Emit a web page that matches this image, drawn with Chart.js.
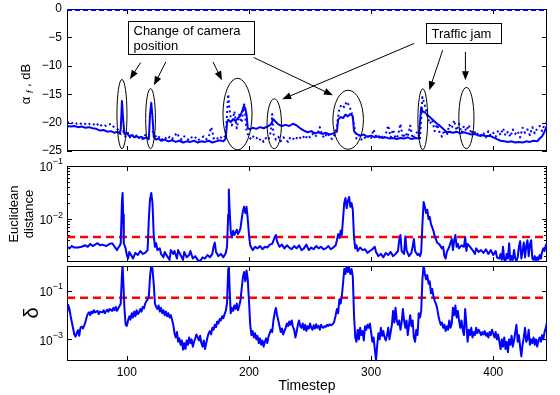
<!DOCTYPE html>
<html>
<head>
<meta charset="utf-8">
<script src="https://cdn.jsdelivr.net/npm/chart.js@4.4.1/dist/chart.umd.min.js"></script>
<style>
  body { margin: 0; background: #fff; width: 560px; height: 395px; position: relative; overflow: hidden; }
  canvas { position: absolute; left: 0; }
</style>
</head>
<body>
<canvas id="c1" width="560" height="160" style="top:0px"></canvas>
<canvas id="c2" width="560" height="110" style="top:156px"></canvas>
<canvas id="c3" width="560" height="137" style="top:258px"></canvas>
<script>
// ---- data ----
const xMin = 51, xMax = 444;
const xTicks = [100, 200, 300, 400];

// panel 1 : alpha_f in dB
const alphaTicks = [-25, -20, -15, -10, -5, 0];
const alphaZero = [[51, 0], [444, 0]];
const alphaMain = [
  [51,-20.6],[54,-20.7],[57,-20.6],[60,-20.8],[63,-20.7],[66,-20.9],[69,-20.8],[72,-21.0],[75,-21.1],[78,-21.4],
  [81,-21.3],[84,-21.6],[87,-21.5],[90,-21.8],[92,-21.6],[94,-21.9],[95,-21.2],[96,-16.2],[97,-19.5],[98,-22.0],
  [100,-21.8],[102,-22.4],[104,-22.2],[106,-22.6],[108,-22.4],[110,-22.7],[112,-22.5],[114,-22.8],[116,-22.6],[118,-22.9],
  [119,-18.5],[120,-16.5],[121,-19.0],[122,-22.5],[124,-23.0],[126,-22.8],[128,-23.2],[131,-23.0],[134,-23.3],[137,-23.1],
  [140,-23.4],[143,-23.2],[146,-23.5],[149,-23.3],[152,-23.4],[155,-23.2],[158,-23.5],[161,-23.3],[164,-23.4],[167,-23.2],
  [170,-23.5],[173,-23.3],[176,-23.1],[179,-23.3],[181,-22.8],[182,-20.0],[183,-19.5],[185,-19.9],[187,-19.4],[189,-19.7],
  [191,-19.2],[193,-18.8],[195,-17.6],[196,-17.1],[197,-17.5],[198,-18.6],[199,-21.0],[201,-21.2],[203,-20.9],[206,-21.1],
  [209,-20.8],[212,-21.0],[215,-20.7],[218,-20.3],[220,-19.4],[222,-19.9],[224,-20.3],[227,-20.6],[230,-20.4],[233,-20.6],
  [236,-20.2],[239,-20.5],[242,-21.0],[245,-21.4],[248,-21.7],[251,-21.5],[254,-21.9],[257,-21.7],[260,-22.0],[263,-21.8],
  [266,-22.1],[269,-21.9],[272,-21.6],[273,-19.5],[275,-19.0],[277,-19.2],[279,-18.6],[281,-18.9],[283,-18.5],[285,-18.9],
  [286,-21.5],[288,-22.0],[291,-22.3],[294,-22.1],[297,-22.5],[300,-22.3],[303,-22.6],[306,-22.4],[309,-22.7],[312,-22.6],
  [315,-22.8],[318,-22.7],[321,-22.9],[324,-22.7],[327,-22.8],[330,-22.6],[333,-22.9],[336,-22.7],[339,-22.8],[340,-20.0],
  [341,-17.3],[342,-18.0],[344,-18.2],[346,-18.6],[348,-19.0],[350,-19.4],[352,-19.8],[354,-20.2],[356,-20.5],[358,-20.9],
  [360,-21.3],[362,-21.7],[364,-21.6],[367,-21.8],[370,-21.6],[373,-21.9],[376,-21.7],[379,-21.9],[382,-22.1],[385,-22.0],
  [388,-22.3],[391,-22.2],[394,-22.4],[397,-22.3],[400,-22.6],[403,-22.9],[406,-23.2],[409,-23.3],[412,-23.4],[415,-23.3],
  [418,-23.5],[421,-23.4],[424,-23.5],[427,-23.3],[430,-23.4],[433,-23.2],[436,-23.3],[438,-22.8],[440,-22.4],[442,-21.6],
  [444,-20.5]
];
const alphaDotted = [
  [51,-20.0],[53,-19.8],[55,-20.1],[57,-19.9],[59,-20.2],[61,-20.0],[63,-20.3],[65,-20.1],[67,-20.4],[69,-20.2],
  [71,-20.5],[73,-20.3],[75,-20.6],[77,-20.1],[79,-20.5],[81,-20.3],[83,-20.6],[85,-20.4],[87,-20.2],[89,-20.7],
  [91,-20.9],[93,-21.3],[95,-22.0],[97,-21.5],[99,-22.5],[101,-21.8],[103,-22.8],[105,-22.3],[107,-22.0],[109,-22.8],
  [111,-22.4],[113,-22.9],[115,-22.2],[117,-22.6],[119,null],[121,-21.5],[123,-22.2],[125,-22.8],[127,-22.4],[129,-23.0],
  [131,-22.6],[133,-23.0],[135,-22.5],[137,-22.9],[139,-22.4],[141,-21.8],[143,-22.7],[145,-23.0],[147,-22.4],[149,-22.8],
  [151,-23.1],[153,-22.6],[155,-22.9],[157,-22.5],[159,-23.0],[161,-22.7],[163,-22.4],[165,-22.9],[167,-22.6],[169,-20.8],
  [170,-21.5],[171,-22.8],[173,-22.5],[175,-23.0],[177,-22.6],[179,-22.8],[181,-22.2],[183,-15.0],[184,-17.5],[186,-20.5],
  [188,-18.0],[190,-21.0],[192,-18.6],[194,-20.0],[196,-16.5],[198,-21.5],[200,-22.5],[202,-23.0],[204,-22.3],[206,-22.6],
  [208,-23.2],[210,-22.8],[212,-23.4],[214,-22.7],[216,-23.0],[218,-21.5],[219,-18.5],[220,-22.0],[222,-23.0],[224,-22.5],
  [226,-23.3],[228,-22.6],[230,-22.9],[232,-23.4],[234,-22.5],[236,-22.8],[238,-23.1],[240,-22.4],[242,-22.7],[244,-22.3],
  [246,-22.9],[248,-22.2],[250,-22.6],[252,-22.0],[254,-22.5],[256,-22.1],[258,-20.8],[260,-22.3],[262,-22.7],[264,-21.8],
  [266,-22.4],[268,-22.9],[270,-22.2],[272,-20.5],[274,-17.5],[276,-16.8],[278,-17.3],[280,-16.3],[282,-17.0],[284,-18.2],
  [286,-20.4],[288,-22.8],[290,-22.2],[292,-23.0],[294,-22.5],[296,-22.9],[298,-22.3],[300,-22.7],[302,-21.2],[304,-22.4],
  [306,-22.8],[308,-22.2],[310,-22.9],[312,-22.0],[314,-20.5],[316,-22.6],[318,-21.2],[320,-22.8],[322,-22.3],[324,-20.2],
  [326,-22.7],[328,-21.8],[330,-22.5],[332,-20.5],[334,-22.8],[336,-22.2],[338,-21.6],[340,-22.9],[342,-15.5],[344,-17.0],
  [346,-18.8],[348,-20.2],[350,-19.5],[352,-21.5],[354,-20.3],[356,-21.7],[358,-22.5],[360,-21.3],[362,-22.2],[364,-20.4],
  [366,-21.0],[368,-19.6],[370,-21.4],[372,-20.2],[374,-21.8],[376,-20.6],[378,-21.5],[380,-20.4],[382,-22.0],[384,-21.3],
  [386,-22.2],[388,-21.8],[390,-22.4],[392,-21.9],[394,-22.6],[396,-21.5],[398,-22.3],[400,-21.8],[402,-22.5],[404,-21.4],
  [406,-22.2],[408,-21.0],[410,-22.3],[412,-21.6],[414,-22.5],[416,-21.2],[418,-22.0],[420,-21.5],[422,-22.6],[424,-20.9],
  [426,-21.8],[428,-21.2],[430,-22.2],[432,-20.8],[434,-21.9],[436,-21.0],[438,-20.6],[440,-21.5],[442,-20.3],[444,-20.0]
];

// panel 1 annotations, in data units: [t, value, radius t, radius value]
const ellipses = [[96, -18.5, 4.1, 6.1], [119.4, -19.3, 4, 5.3], [190.6, -18.5, 11.9, 6.3], [220.7, -20.2, 5.9, 4.4],
                  [281.2, -19.5, 12.5, 5.2], [342.3, -19.4, 4, 5.35], [378, -19.2, 6.2, 5.4]];
// [t0, v0, t1, v1] arrow from (t0,v0) to head at (t1,v1)
const arrows = [[111.3, -9.42, 102.5, -12.37], [131.9, -9.31, 122.2, -13.43], [170.5, -9.31, 177.9, -12.54],
                [203.8, -8.53, 268.7, -15.19], [335.3, -6.06, 227.2, -15.9], [358.6, -7.24, 347.6, -14.31],
                [377.2, -7.54, 377.2, -12.54]];
const boxLabels = [['Change of camera', 'position'], ['Traffic jam']];
const boxCorners = [[101.2, -2.07, 203.9, -7.95], [345, -2.5, 406.6, -6.06]];

// panel 2 : euclidean distance (log)
const distRange = [0.00155, 0.1];
const distMajor = [0.01, 0.1];
const distMinor = [0.002, 0.003, 0.004, 0.005, 0.006, 0.007, 0.008, 0.009, 0.02, 0.03, 0.04, 0.05, 0.06, 0.07, 0.08, 0.09];
const distThreshold = 0.0046;
const distance = [
  [51,0.0030],[53,0.0028],[55,0.0031],[57,0.0029],[60,0.0029],[63,0.0030],[66,0.0032],[68,0.0030],[70,0.0034],[72,0.0031],
  [74,0.0033],[76,0.0035],[78,0.0032],[80,0.0033],[83,0.0031],[86,0.0034],[88,0.0035],[90,0.0030],[92,0.0026],[93,0.0029],
  [94,0.0031],[95,0.0035],[96,0.022],[96.5,0.031],[97,0.012],[97.5,0.0035],[99,0.0028],[100,0.0021],[101,0.0018],[102,0.0024],
  [104,0.0020],[105,0.0018],[107,0.0023],[109,0.0021],[111,0.0025],[113,0.0022],[115,0.0023],[117,0.0026],[118,0.010],[119,0.024],
  [120,0.031],[121,0.020],[122,0.0050],[123,0.0030],[124,0.0035],[125,0.0026],[127,0.0028],[128,0.0022],[130,0.0019],[131,0.0024],
  [133,0.0020],[135,0.0017],[136,0.0026],[138,0.0022],[139,0.0025],[141,0.0018],[142,0.0026],[144,0.0021],[146,0.0017],[147,0.0024],
  [149,0.0019],[151,0.0021],[152,0.0025],[154,0.0018],[156,0.0020],[158,0.0017],[160,0.0016],[162,0.0019],[164,0.0018],[166,0.0021],
  [168,0.0019],[170,0.0022],[171,0.0030],[172,0.0036],[173,0.0024],[175,0.0020],[177,0.0022],[179,0.0019],[181,0.0023],[182,0.0030],
  [183,0.0120],[183.5,0.036],[184,0.018],[185,0.0060],[186,0.0045],[187,0.0060],[188,0.0050],[189,0.0056],[190,0.0063],[191,0.0052],
  [192,0.0058],[193,0.0066],[194,0.010],[195,0.014],[196,0.017],[197,0.013],[198,0.017],[199,0.010],[200,0.005],[201,0.0032],
  [203,0.0026],[205,0.0030],[207,0.0028],[209,0.0031],[211,0.0027],[213,0.0030],[215,0.0029],[217,0.0033],[219,0.0034],[221,0.0045],
  [222,0.0050],[223,0.0038],[225,0.0030],[227,0.0033],[229,0.0028],[231,0.0032],[233,0.0029],[235,0.0027],[237,0.0031],[239,0.0028],
  [241,0.0032],[243,0.0026],[245,0.0028],[247,0.0033],[249,0.0026],[251,0.0029],[253,0.0027],[255,0.0031],[257,0.0028],[259,0.0030],
  [261,0.0027],[263,0.0028],[265,0.0031],[267,0.0027],[269,0.0029],[271,0.0032],[272,0.0040],[273,0.0052],[274,0.0044],[275,0.0060],
  [276,0.0050],[277,0.010],[278,0.020],[279,0.025],[280,0.016],[281,0.022],[282,0.026],[283,0.017],[284,0.020],[285,0.015],
  [286,0.0045],[287,0.0028],[288,0.0032],[289,0.0025],[291,0.0029],[293,0.0026],[295,0.0027],[297,0.0023],[299,0.0025],[301,0.0027],
  [303,0.0030],[304,0.0024],[306,0.0020],[308,0.0022],[310,0.0019],[312,0.0023],[314,0.0021],[316,0.0024],[318,0.0020],[320,0.0022],
  [322,0.0025],[323,0.0040],[324,0.0050],[325,0.0025],[327,0.0022],[328,0.0047],[329,0.0026],[331,0.0020],[333,0.0023],[334,0.0030],
  [335,0.0042],[336,0.0025],[338,0.0021],[339,0.0022],[340,0.0020],[341,0.0024],[342,0.0080],[343,0.021],[344,0.017],[345,0.013],
  [346,0.015],[347,0.010],[348,0.011],[349,0.008],[350,0.0070],[351,0.0060],[352,0.0048],[353,0.0042],[354,0.0036],[356,0.0033],
  [358,0.0028],[359,0.0030],[360,0.0020],[361,0.0018],[362,0.0024],[364,0.0030],[366,0.0042],[367,0.0026],[368,0.0040],[369,0.0050],
  [370,0.0030],[371,0.0034],[372,0.0028],[374,0.0032],[376,0.0030],[377,0.0046],[378,0.0025],[379,0.0034],[381,0.0030],[383,0.0026],
  [385,0.0022],[386,0.0028],[388,0.0024],[390,0.0026],[392,0.0023],[394,0.0027],[396,0.0022],[398,0.0026],[400,0.0021],[402,0.0025],
  [403,0.0019],[405,0.0018],[406,0.0022],[407,0.0017],[408,0.0030],[409,0.0017],[410,0.0016],[411,0.0022],[412,0.0018],[413,0.0035],
  [414,0.0016],[415,0.0020],[416,0.0017],[417,0.0026],[418,0.0018],[419,0.0016],[420,0.0019],[421,0.0030],[422,0.0038],[423,0.0018],
  [424,0.0025],[425,0.0036],[426,0.0019],[427,0.0031],[428,0.0040],[429,0.0020],[430,0.0033],[431,0.0040],[432,0.0018],[433,0.0017],
  [434,0.0020],[435,0.0016],[436,0.0019],[437,0.0017],[438,0.0021],[439,0.0018],[440,0.0024],[441,0.0028],[442,0.0025],[443,0.0032],
  [444,0.0036]
];

// panel 3 : delta (log)
const deltaRange = [0.000128, 1.07];
const deltaMajor = [0.001, 0.1];
const deltaThreshold = 0.052;
const delta = [
  [51,0.012],[52,0.026],[53,0.018],[54,0.009],[55,0.005],[56,0.0028],[57,0.0016],[58,0.0013],[59,0.0018],[60,0.0024],
  [61,0.0014],[62,0.0030],[63,0.0034],[64,0.0028],[65,0.0036],[66,0.0050],[67,0.0080],[68,0.011],[69,0.013],[70,0.010],
  [71,0.014],[72,0.012],[73,0.016],[74,0.013],[76,0.015],[77,0.011],[78,0.014],[80,0.013],[81,0.016],[82,0.012],
  [84,0.017],[85,0.014],[86,0.018],[88,0.015],[89,0.020],[90,0.016],[91,0.022],[92,0.015],[93,0.019],[94,0.024],
  [95,0.030],[96,0.5],[96.5,1.2],[97,0.3],[98,0.02],[99,0.004],[100,0.0036],[101,0.006],[102,0.009],[103,0.0065],
  [104,0.012],[105,0.008],[106,0.014],[107,0.009],[108,0.016],[109,0.011],[110,0.013],[111,0.018],[112,0.014],[113,0.022],
  [114,0.019],[115,0.030],[116,0.038],[117,0.045],[118,0.06],[119,0.4],[120,1.2],[121,0.8],[122,0.2],[123,0.03],
  [124,0.022],[125,0.018],[126,0.025],[127,0.014],[128,0.020],[129,0.012],[130,0.016],[131,0.010],[132,0.014],[133,0.009],
  [134,0.012],[135,0.008],[136,0.010],[137,0.0065],[138,0.004],[139,0.0018],[140,0.0012],[141,0.0020],[142,0.0008],[143,0.0011],
  [144,0.0006],[145,0.0009],[146,0.00038],[147,0.0007],[148,0.0004],[149,0.0009],[150,0.0006],[151,0.0012],[152,0.0007],[153,0.0010],
  [154,0.0005],[155,0.0008],[156,0.0011],[157,0.0016],[158,0.0012],[159,0.0009],[160,0.0014],[161,0.0007],[162,0.0005],[163,0.0009],
  [164,0.0004],[165,0.0007],[166,0.0012],[167,0.0018],[168,0.0022],[169,0.0016],[170,0.0030],[171,0.0025],[172,0.0040],[173,0.0032],
  [174,0.0055],[175,0.0045],[176,0.0070],[177,0.0060],[178,0.0090],[179,0.0075],[180,0.011],[181,0.015],[182,0.03],[183,0.8],
  [183.5,1.2],[184,0.2],[185,0.012],[186,0.02],[187,0.015],[188,0.025],[189,0.018],[190,0.03],[191,0.016],[192,0.024],
  [193,0.04],[194,0.12],[195,0.35],[196,0.6],[197,0.25],[198,0.7],[199,0.3],[200,0.04],[201,0.004],[202,0.0015],
  [203,0.0022],[204,0.0012],[205,0.0018],[206,0.0010],[207,0.0014],[208,0.0007],[209,0.0011],[210,0.0006],[211,0.0009],[212,0.0005],
  [213,0.0008],[214,0.0011],[215,0.0007],[216,0.0013],[217,0.0018],[218,0.0025],[219,0.0020],[220,0.0060],[221,0.012],[222,0.020],
  [223,0.010],[224,0.006],[225,0.0035],[226,0.0020],[227,0.0028],[228,0.0016],[229,0.0022],[230,0.0030],[231,0.0045],[232,0.0035],
  [233,0.0055],[234,0.0040],[235,0.0060],[236,0.0032],[237,0.0025],[238,0.0012],[239,0.0020],[240,0.0040],[241,0.0060],[242,0.0035],
  [243,0.0030],[244,0.0045],[245,0.0025],[246,0.0040],[247,0.0022],[248,0.0035],[249,0.0028],[250,0.0045],[251,0.0030],[252,0.0025],
  [253,0.0038],[254,0.0028],[255,0.0042],[256,0.0030],[257,0.0036],[258,0.0025],[259,0.0040],[260,0.0032],[261,0.0030],[262,0.0035],
  [263,0.0033],[264,0.0040],[265,0.0036],[266,0.0042],[267,0.0038],[268,0.0040],[269,0.0045],[270,0.0060],[271,0.010],[272,0.018],
  [273,0.012],[274,0.045],[275,0.03],[276,0.06],[277,0.2],[278,0.8],[279,0.5],[280,1.2],[281,0.6],[282,0.9],
  [283,0.5],[284,0.8],[285,0.4],[286,0.01],[287,0.0012],[288,0.0008],[289,0.0025],[290,0.0010],[291,0.0030],[292,0.0015],
  [293,0.0022],[294,0.0009],[295,0.0035],[296,0.0025],[297,0.0040],[298,0.0030],[299,0.0045],[300,0.0020],[301,0.0008],[302,0.0012],
  [303,0.0004],[304,0.00014],[305,0.0006],[306,0.0018],[307,0.0010],[308,0.0030],[309,0.0014],[310,0.0022],[311,0.0012],[312,0.0009],
  [313,0.0015],[314,0.0030],[315,0.0010],[316,0.0020],[317,0.0040],[318,0.015],[319,0.005],[320,0.020],[321,0.006],[322,0.0040],
  [323,0.0060],[324,0.0025],[325,0.0050],[326,0.018],[327,0.006],[328,0.0030],[329,0.0060],[330,0.0015],[331,0.0040],[332,0.010],
  [333,0.0035],[334,0.0060],[335,0.0012],[336,0.0008],[337,0.0025],[338,0.0015],[339,0.012],[340,0.0080],[341,0.015],[342,0.3],
  [343,1.2],[344,0.5],[345,0.3],[346,0.45],[347,0.2],[348,0.25],[349,0.08],[350,0.12],[351,0.06],[352,0.04],
  [353,0.03],[354,0.02],[355,0.010],[356,0.006],[357,0.0040],[358,0.0050],[359,0.0030],[360,0.0040],[361,0.0022],[362,0.0035],
  [363,0.0025],[364,0.0060],[365,0.0030],[366,0.0045],[367,0.020],[368,0.010],[369,0.025],[370,0.008],[371,0.015],[372,0.006],
  [373,0.0030],[374,0.0060],[375,0.0025],[376,0.0015],[377,0.018],[378,0.0040],[379,0.0008],[380,0.0025],[381,0.0015],[382,0.0030],
  [383,0.0012],[384,0.0020],[385,0.0015],[386,0.0030],[387,0.0018],[388,0.0025],[389,0.0020],[390,0.0015],[391,0.0020],[392,0.0016],
  [393,0.0022],[394,0.0014],[395,0.0018],[396,0.0012],[397,0.0020],[398,0.0015],[399,0.0025],[400,0.0017],[401,0.0012],[402,0.0020],
  [403,0.0010],[404,0.0016],[405,0.0008],[406,0.0004],[407,0.0010],[408,0.0005],[409,0.0012],[410,0.0004],[411,0.0008],[412,0.0003],
  [413,0.0010],[414,0.0006],[415,0.0014],[416,0.0005],[417,0.0009],[418,0.0020],[419,0.0040],[420,0.0008],[421,0.0015],[422,0.0005],
  [423,0.0002],[424,0.0006],[425,0.0012],[426,0.0030],[427,0.0008],[428,0.0010],[429,0.0025],[430,0.0006],[431,0.0010],[432,0.0007],
  [433,0.0012],[434,0.0006],[435,0.0010],[436,0.0005],[437,0.0009],[438,0.0012],[439,0.0008],[440,0.0015],[441,0.0010],[442,0.0020],
  [443,0.0030],[444,0.0050]
];

// ---- drawing ----
const FONT = "'Liberation Sans', Arial, Helvetica, sans-serif";
const BLUE = '#0000ff', RED = '#ff0000';
const toXY = arr => arr.map(p => ({ x: p[0], y: p[1] }));

// box round the axes + inward tick marks on all four sides (drawn under the data, like matlab)
const framePlugin = {
  id: 'frame',
  beforeDatasetsDraw(chart) {
    const { ctx, chartArea: a, scales } = chart;
    ctx.save();
    ctx.strokeStyle = '#000';
    ctx.lineWidth = 1;
    ctx.strokeRect(a.left + 0.5, a.top + 0.5, a.right - a.left - 1, a.bottom - a.top - 1);
    ctx.beginPath();
    scales.x.ticks.forEach(t => {
      const x = Math.round(scales.x.getPixelForValue(t.value)) + 0.5;
      ctx.moveTo(x, a.bottom); ctx.lineTo(x, a.bottom - 5);
      ctx.moveTo(x, a.top); ctx.lineTo(x, a.top + 5);
    });
    scales.y.ticks.forEach(t => {
      const y = Math.round(scales.y.getPixelForValue(t.value)) + 0.5;
      const len = t.small ? 3 : 5;
      ctx.moveTo(a.left, y); ctx.lineTo(a.left + len, y);
      ctx.moveTo(a.right, y); ctx.lineTo(a.right - len, y);
    });
    ctx.stroke();
    // power-of-ten labels for the log axes
    scales.y.ticks.forEach(t => {
      if (!t.pow) return;
      const y = scales.y.getPixelForValue(t.value);
      const exp = '\u2212' + t.pow;
      ctx.fillStyle = '#000';
      ctx.textBaseline = 'middle';
      ctx.font = '9px ' + FONT;
      const we = ctx.measureText(exp).width;
      ctx.textAlign = 'left';
      ctx.fillText(exp, a.left - 4 - we, y - 4);
      ctx.font = '12px ' + FONT;
      ctx.textAlign = 'right';
      ctx.fillText('10', a.left - 4 - we, y + 2);
    });
    ctx.restore();
  }
};

// rotated y-axis title; parts = [text, fontsize, shift, italic]
function yTitle(x, y, lines) {
  return {
    id: 'ytitle',
    afterDraw(chart) {
      const ctx = chart.ctx;
      ctx.save();
      ctx.translate(x, y);
      ctx.rotate(-Math.PI / 2);
      ctx.fillStyle = '#000';
      ctx.textBaseline = 'middle';
      ctx.textAlign = 'left';
      lines.forEach((parts, li) => {
        const fontOf = p => (p[3] ? 'italic ' : '') + p[1] + 'px ' + FONT;
        let total = 0;
        parts.forEach(p => { ctx.font = fontOf(p); total += ctx.measureText(p[0]).width; });
        let cx = -total / 2;
        const ly = (li - (lines.length - 1) / 2) * 15;
        parts.forEach(p => {
          ctx.font = fontOf(p);
          ctx.fillText(p[0], cx, ly + p[2]);
          cx += ctx.measureText(p[0]).width;
        });
      });
      ctx.restore();
    }
  };
}

function drawArrow(ctx, x0, y0, x1, y1) {
  const ang = Math.atan2(y1 - y0, x1 - x0), L = 9, W = 3.5;
  const c = Math.cos(ang), s = Math.sin(ang);
  ctx.beginPath();
  ctx.moveTo(x0, y0); ctx.lineTo(x1 - c * L * 0.6, y1 - s * L * 0.6);
  ctx.stroke();
  ctx.beginPath();
  ctx.moveTo(x1, y1);
  ctx.lineTo(x1 - L * c + W * s, y1 - L * s - W * c);
  ctx.lineTo(x1 - L * c - W * s, y1 - L * s + W * c);
  ctx.closePath();
  ctx.fill();
}

const annotationPlugin = {
  id: 'notes',
  afterDatasetsDraw(chart) {
    const { ctx, scales: { x, y } } = chart;
    ctx.save();
    ctx.strokeStyle = '#000';
    ctx.fillStyle = '#000';
    ctx.lineWidth = 1;
    ellipses.forEach(e => {
      const cx = x.getPixelForValue(e[0]), cy = y.getPixelForValue(e[1]);
      const rx = x.getPixelForValue(e[0] + e[2]) - cx;
      const ry = cy - y.getPixelForValue(e[1] + e[3]);
      ctx.beginPath();
      ctx.ellipse(cx, cy, rx, ry, 0, 0, Math.PI * 2);
      ctx.stroke();
    });
    arrows.forEach(r => drawArrow(ctx, x.getPixelForValue(r[0]), y.getPixelForValue(r[1]),
                                   x.getPixelForValue(r[2]), y.getPixelForValue(r[3])));
    boxCorners.forEach((b, i) => {
      const x0 = Math.round(x.getPixelForValue(b[0])) + 0.5, y0 = Math.round(y.getPixelForValue(b[1])) + 0.5;
      const x1 = Math.round(x.getPixelForValue(b[2])) + 0.5, y1 = Math.round(y.getPixelForValue(b[3])) + 0.5;
      ctx.fillStyle = '#fff';
      ctx.fillRect(x0, y0, x1 - x0, y1 - y0);
      ctx.strokeRect(x0, y0, x1 - x0, y1 - y0);
      ctx.fillStyle = '#000';
      ctx.font = '13px ' + FONT;
      ctx.textBaseline = 'middle';
      ctx.textAlign = 'left';
      const lines = boxLabels[i];
      const mid = (y0 + y1) / 2;
      lines.forEach((t, li) => ctx.fillText(t, x0 + 5, mid + (li - (lines.length - 1) / 2) * 15 + 0.5));
    });
    ctx.restore();
  }
};

// fixed axis sizes so the three plot boxes line up; drop the label overhang padding
function fixY(s) { s.width = 67; s.paddingTop = 0; s.paddingBottom = 0; }

function xScale(height, showLabels) {
  return {
    type: 'linear', min: xMin, max: xMax,
    grid: { display: false, drawTicks: false }, border: { display: false },
    afterBuildTicks: s => { s.ticks = xTicks.map(v => ({ value: v })); },
    afterFit: s => { s.height = height; s.paddingLeft = 0; s.paddingRight = 0; },
    ticks: { display: showLabels, padding: 4, color: '#000', font: { family: FONT, size: 12 }, autoSkip: false, maxRotation: 0 },
    title: { display: showLabels, text: 'Timestep', color: '#000', font: { family: FONT, size: 14, lineHeight: 1.2 }, padding: 0 }
  };
}

const baseOptions = {
  responsive: false,
  animation: false,
  events: [],
  plugins: { legend: { display: false }, tooltip: { enabled: false } },
  elements: { point: { radius: 0 }, line: { tension: 0, borderJoinStyle: 'round' } }
};

// panel 1
new Chart(document.getElementById('c1'), {
  type: 'line',
  data: {
    datasets: [
      { data: toXY(alphaZero), borderColor: BLUE, borderWidth: 4, borderDash: [5, 3] },
      { data: toXY(alphaDotted), borderColor: BLUE, borderWidth: 2, borderDash: [2, 3], spanGaps: false },
      { data: toXY(alphaMain), borderColor: BLUE, borderWidth: 2 }
    ]
  },
  options: Object.assign({}, baseOptions, {
    layout: { padding: { top: 9, right: 13, bottom: 9, left: 0 } },
    scales: {
      x: xScale(0, false),
      y: {
        min: -25, max: 0,
        grid: { display: false, drawTicks: false }, border: { display: false },
        afterBuildTicks: s => { s.ticks = alphaTicks.map(v => ({ value: v })); },
        afterFit: fixY,
        ticks: { padding: 5, color: '#000', font: { family: FONT, size: 12 },
                 callback: v => (v < 0 ? '\u2212' + Math.abs(v) : String(v)) }
      }
    }
  }),
  plugins: [framePlugin, annotationPlugin,
            yTitle(26, 84, [[['\u03b1 ', 13, 0], ['f', 9, 4, true], [' , dB', 13, 0]]])]
});

// panel 2
new Chart(document.getElementById('c2'), {
  type: 'line',
  data: {
    datasets: [
      { data: toXY(distance), borderColor: BLUE, borderWidth: 2 },
      { data: [{ x: xMin, y: distThreshold }, { x: xMax, y: distThreshold }], borderColor: RED, borderWidth: 2.5, borderDash: [8, 5] }
    ]
  },
  options: Object.assign({}, baseOptions, {
    layout: { padding: { top: 10, right: 13, bottom: 4, left: 0 } },
    scales: {
      x: xScale(0, false),
      y: {
        type: 'logarithmic', min: distRange[0], max: distRange[1],
        grid: { display: false, drawTicks: false }, border: { display: false },
        afterBuildTicks: s => {
          s.ticks = distMinor.map(v => ({ value: v, small: true }))
            .concat(distMajor.map((v, i) => ({ value: v, pow: String(2 - i) })));
        },
        afterFit: fixY,
        ticks: { autoSkip: false, callback: () => '' }
      }
    }
  }),
  plugins: [framePlugin, yTitle(22, 58, [[['Euclidean', 13, 0]], [['distance', 13, 0]]])]
});

// panel 3
new Chart(document.getElementById('c3'), {
  type: 'line',
  data: {
    datasets: [
      { data: toXY(delta), borderColor: BLUE, borderWidth: 2 },
      { data: [{ x: xMin, y: deltaThreshold }, { x: xMax, y: deltaThreshold }], borderColor: RED, borderWidth: 2.5, borderDash: [8, 5] }
    ]
  },
  options: Object.assign({}, baseOptions, {
    layout: { padding: { top: 8, right: 13, bottom: 0, left: 0 } },
    scales: {
      x: xScale(34, true),
      y: {
        type: 'logarithmic', min: deltaRange[0], max: deltaRange[1],
        grid: { display: false, drawTicks: false }, border: { display: false },
        afterBuildTicks: s => { s.ticks = deltaMajor.map((v, i) => ({ value: v, pow: String(3 - 2 * i) })); },
        afterFit: fixY,
        ticks: { autoSkip: false, callback: () => '' }
      }
    }
  }),
  plugins: [framePlugin, yTitle(32, 55, [[['\u03b4', 20, 0]]])]
});
</script>
</body>
</html>
